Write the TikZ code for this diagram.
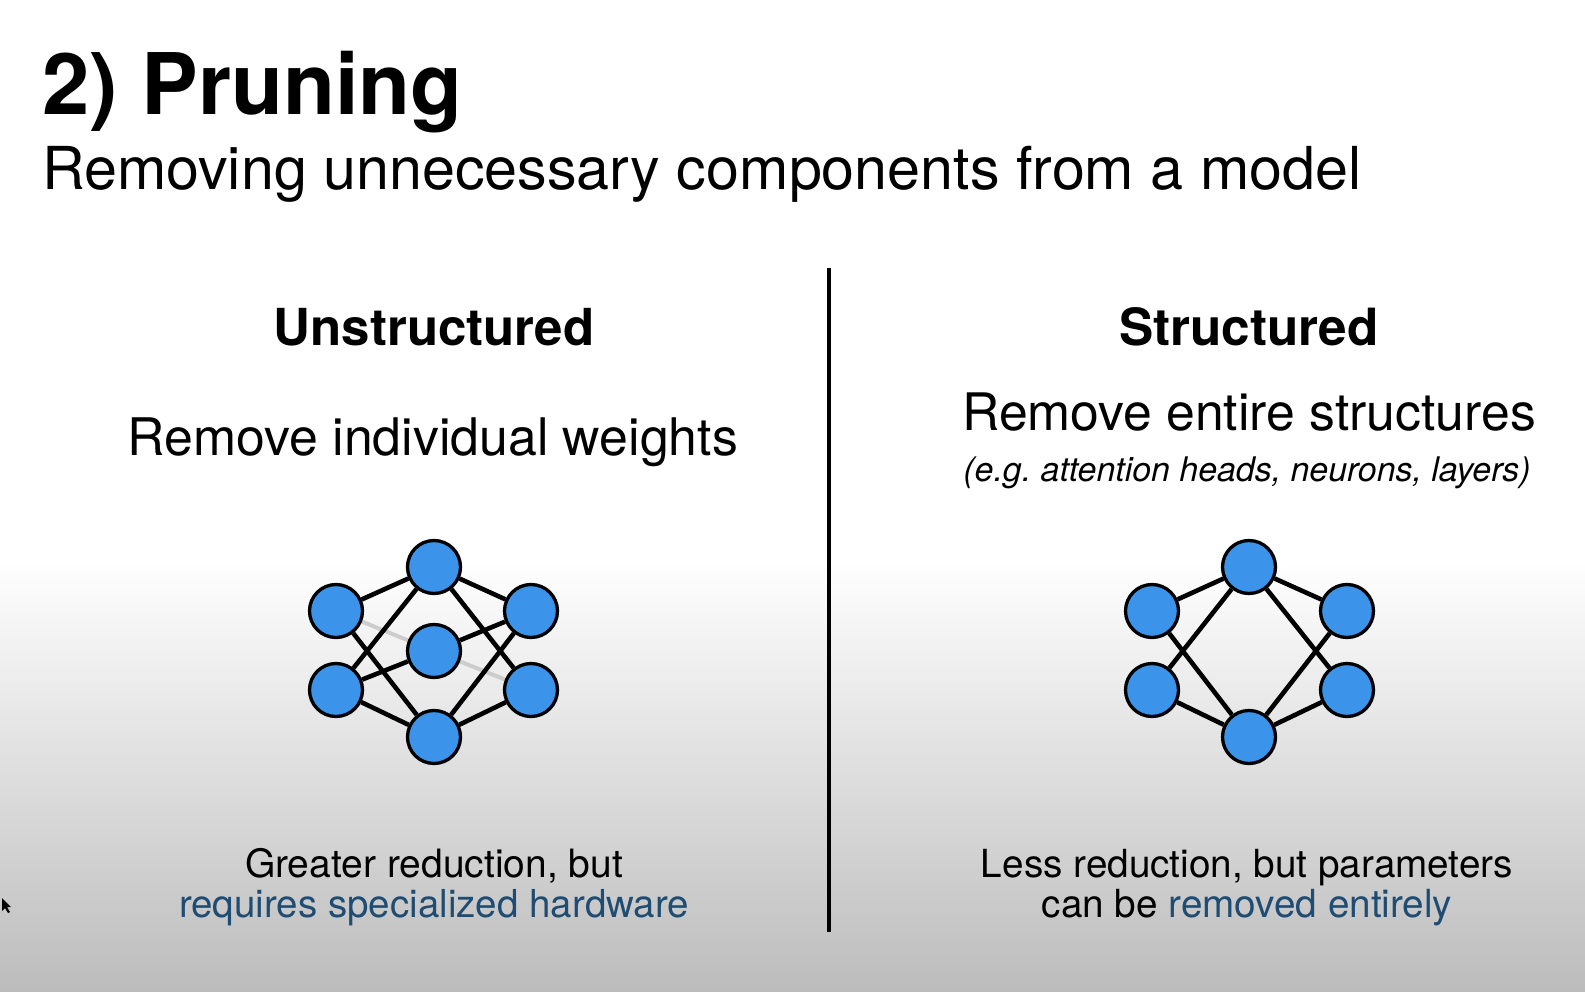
\documentclass[tikz,border=0pt]{standalone}
\usepackage{fontspec}
\setmainfont{TeX Gyre Heros}
\usetikzlibrary{backgrounds}
\frenchspacing
\definecolor{nodeblue}{RGB}{60,148,234}
\definecolor{textblue}{RGB}{30,76,114}
\definecolor{prunedgray}{RGB}{205,205,205}
\definecolor{bgbottom}{RGB}{188,188,188}
\tikzset{
  neuron/.style={circle, draw=black, line width=3.3pt, fill=nodeblue, minimum size=53pt, inner sep=0pt},
  wire/.style={line width=4.6pt, black},
  prunedwire/.style={line width=4pt, prunedgray},
  txt/.style={inner sep=0pt, anchor=base}
}
\begin{document}
\begin{tikzpicture}[x=1pt, y=-1pt]
\useasboundingbox (0,0) rectangle (1585,992);
% titles
\node[txt, anchor=base west, font=\fontsize{85}{92}\selectfont\bfseries] (title) at (42,115) {2) Pruning};
\node[txt, anchor=base west, font=\fontsize{59.2}{64}\selectfont] (subtitle) at (42,190) {Removing unnecessary components from a model};
% left column
\node[txt, font=\fontsize{51}{56}\selectfont\bfseries] (unstr) at (434,345) {Unstructured};
\node[txt, font=\fontsize{51.8}{56}\selectfont] (unstrdesc) at (433,455) {Remove individual weights};
\node[txt, font=\fontsize{39}{44}\selectfont] (unstrA) at (434,877) {Greater reduction, but};
\node[txt, font=\fontsize{38.5}{44}\selectfont, text=textblue] (unstrB) at (434,917) {requires specialized hardware};
% right column
\node[txt, font=\fontsize{51.3}{56}\selectfont\bfseries] (str) at (1249,345) {Structured};
\node[txt, font=\fontsize{51.7}{56}\selectfont] (strdesc) at (1249,430) {Remove entire structures};
\node[txt, font=\fontsize{33.9}{38}\selectfont\itshape] (streg) at (1247,481) {(e.g.\ attention heads, neurons, layers)};
\node[txt, font=\fontsize{38.7}{44}\selectfont] (strA) at (1247,877) {Less reduction, but parameters};
\node[txt, font=\fontsize{38.7}{44}\selectfont] (strB) at (1247,917) {can be \textcolor{textblue}{removed entirely}};
% divider
\coordinate (divtop) at (829,268);
\coordinate (divbot) at (829,932);
% left network
\node[neuron] (uL1) at (336,611) {};
\node[neuron] (uL2) at (336,690) {};
\node[neuron] (uM1) at (434,567) {};
\node[neuron] (uM2) at (434,651) {};
\node[neuron] (uM3) at (434,737) {};
\node[neuron] (uR1) at (531,611) {};
\node[neuron] (uR2) at (531,690) {};
% right network
\node[neuron] (sL1) at (1152,611) {};
\node[neuron] (sL2) at (1152,690) {};
\node[neuron] (sM1) at (1249,567) {};
\node[neuron] (sM3) at (1249,737) {};
\node[neuron] (sR1) at (1347,611) {};
\node[neuron] (sR2) at (1347,690) {};
% cursor
\coordinate (cur) at (2,898);
\begin{pgfonlayer}{background}
  \fill[white] (0,0) rectangle (1585,992);
  \shade[top color=white, bottom color=bgbottom] (0,560) rectangle (1585,992);
  \draw[line width=4.5pt, black] (divtop) -- (divbot);
  \fill[black] (cur) -- ++(0,13) -- ++(3,-3) -- ++(3,5) -- ++(2,-1) -- ++(-3,-5) -- ++(4,0) -- cycle;
  % left edges
  \draw[prunedwire] (uL1) -- (uM2);
  \draw[prunedwire] (uM2) -- (uR2);
  \draw[wire] (uL1) -- (uM1);
  \draw[wire] (uL1) -- (uM3);
  \draw[wire] (uL2) -- (uM1);
  \draw[wire] (uL2) -- (uM2);
  \draw[wire] (uL2) -- (uM3);
  \draw[wire] (uM1) -- (uR1);
  \draw[wire] (uM1) -- (uR2);
  \draw[wire] (uM2) -- (uR1);
  \draw[wire] (uM3) -- (uR1);
  \draw[wire] (uM3) -- (uR2);
  % right edges
  \draw[wire] (sL1) -- (sM1);
  \draw[wire] (sL1) -- (sM3);
  \draw[wire] (sL2) -- (sM1);
  \draw[wire] (sL2) -- (sM3);
  \draw[wire] (sM1) -- (sR1);
  \draw[wire] (sM1) -- (sR2);
  \draw[wire] (sM3) -- (sR1);
  \draw[wire] (sM3) -- (sR2);
\end{pgfonlayer}
\end{tikzpicture}
\end{document}
